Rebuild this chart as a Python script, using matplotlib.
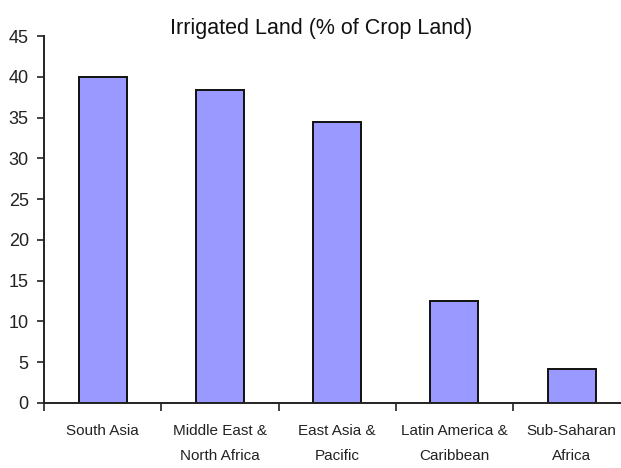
import matplotlib.pyplot as plt
from matplotlib.ticker import FixedLocator

#%% Data
regions = ["South Asia", "Middle East &\nNorth Africa", "East Asia &\nPacific",
           "Latin America &\nCaribbean", "Sub-Saharan\nAfrica"]
irrigated = [40.0, 38.4, 34.5, 12.5, 4.2]
y_ticks = [0, 5, 10, 15, 20, 25, 30, 35, 40, 45]

#%% Style
plt.rcParams['font.family'] = ['Liberation Sans', 'DejaVu Sans']

#%% Plot
fig = plt.figure(figsize=(6.21, 4.68), dpi=100)
ax = fig.add_axes([0.0709, 0.1389, 0.944, 0.784])

x = list(range(len(regions)))
ax.bar(x, irrigated, width=0.41, color="#9999FF", edgecolor="#111111", linewidth=1.4)

ax.set_xlim(-0.5, len(regions) - 0.5)
ax.set_ylim(0, 45)
ax.set_yticks(y_ticks)

# category boundaries get the tick marks, centres get the labels
ax.xaxis.set_major_locator(FixedLocator([i - 0.5 for i in range(len(regions) + 1)]))
ax.xaxis.set_major_formatter(plt.NullFormatter())
ax.xaxis.set_minor_locator(FixedLocator(x))
ax.set_xticklabels(regions, minor=True, fontsize=11, linespacing=2.0)
ax.tick_params(axis='x', which='major', direction='out', length=6, width=1.2, color="#222222")
ax.tick_params(axis='x', which='minor', length=0, pad=15, labelcolor="#222222")
ax.tick_params(axis='y', direction='out', length=5, width=1.2, color="#222222",
               labelsize=13, labelcolor="#222222", pad=6)

for side in ['top', 'right']:
    ax.spines[side].set_visible(False)
for side in ['left', 'bottom']:
    ax.spines[side].set_linewidth(1.4)
    ax.spines[side].set_color("#222222")

fig.text(0.517, 0.94, "Irrigated Land (% of Crop Land)", ha='center', va='center',
         fontsize=15.5, color="#111111")

fig.savefig("out.png", dpi=100)
